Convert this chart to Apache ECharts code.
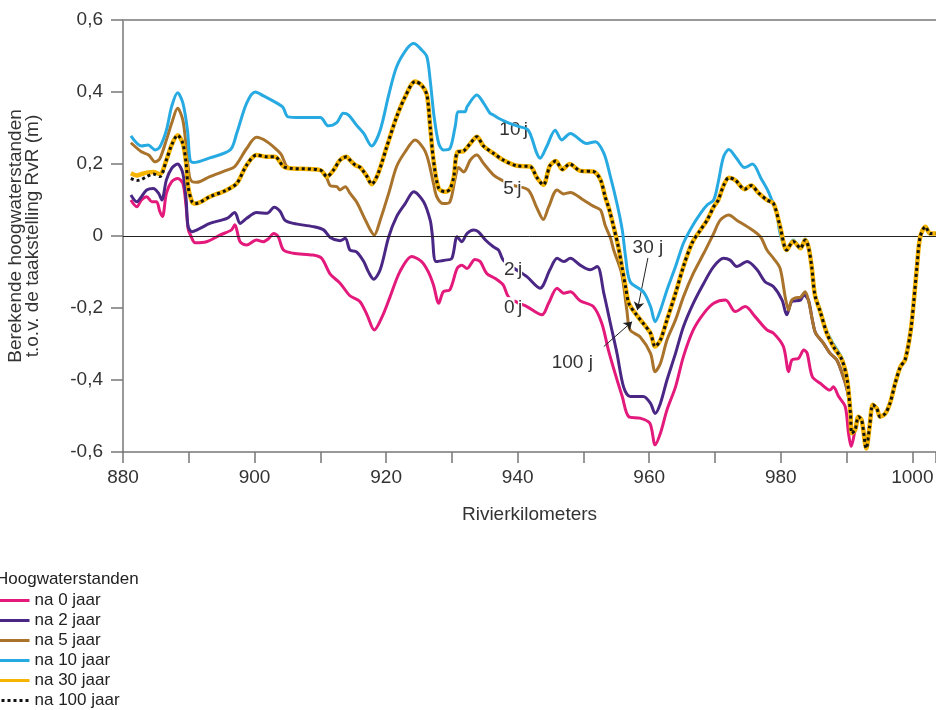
<!DOCTYPE html>
<html>
<head>
    <meta charset="UTF-8">
    <title>Hoogwaterstanden</title>
    <script src="https://cdn.jsdelivr.net/npm/echarts@6/dist/echarts.min.js"></script>
</head>
<body style="margin:0;background:#fff;">
<div id="main" style="width:936px; height:710px;"></div>
<script type="text/javascript">

    // tick labels
    var kmTicks = [880, 900, 920, 940, 960, 980, 1000];

    // [rivierkilometer, hoogwaterstand (m)] per scenario
    var na0 = [[881.2,0.1],[882.1,0.081],[882.8,0.1],[883.6,0.109],[884.4,0.095],[885.1,0.095],[885.6,0.068],[886.0,0.054],[886.6,0.119],[887.4,0.151],[888.3,0.16],[889.1,0.146],[889.6,0.081],[889.9,0.02],[890.2,0.005],[891.0,-0.019],[892.7,-0.016],[894.8,0.003],[896.5,0.017],[897.0,0.031],[897.8,-0.016],[898.8,-0.025],[900.3,-0.011],[901.3,-0.016],[902.1,-0.008],[902.9,0.007],[903.6,-0.002],[904.4,-0.039],[905.9,-0.048],[908.9,-0.053],[910.2,-0.062],[911.5,-0.106],[913.0,-0.131],[914.5,-0.166],[916.0,-0.182],[917.1,-0.219],[918.2,-0.261],[919.4,-0.224],[920.6,-0.169],[922.1,-0.099],[923.9,-0.057],[925.4,-0.071],[926.4,-0.099],[927.2,-0.136],[928.0,-0.187],[928.7,-0.155],[929.7,-0.149],[930.8,-0.09],[931.5,-0.081],[932.3,-0.09],[933.5,-0.065],[934.3,-0.071],[935.3,-0.104],[936.6,-0.118],[937.8,-0.136],[938.6,-0.169],[940.0,-0.185],[941.4,-0.196],[943.7,-0.219],[944.7,-0.187],[946.0,-0.145],[947.0,-0.159],[948.0,-0.155],[949.5,-0.18],[951.5,-0.196],[952.8,-0.243],[953.8,-0.317],[954.8,-0.381],[955.9,-0.446],[956.9,-0.502],[958.6,-0.506],[960.1,-0.52],[960.9,-0.58],[961.7,-0.548],[962.7,-0.483],[964.0,-0.419],[965.2,-0.335],[966.7,-0.261],[968.3,-0.215],[969.8,-0.187],[971.6,-0.178],[973.1,-0.21],[974.6,-0.196],[976.1,-0.224],[977.9,-0.261],[978.9,-0.27],[980.4,-0.307],[981.2,-0.377],[981.7,-0.344],[982.7,-0.34],[983.5,-0.317],[984.0,-0.325],[984.8,-0.391],[986.0,-0.409],[987.5,-0.428],[988.0,-0.419],[988.8,-0.446],[989.8,-0.474],[990.3,-0.548],[990.7,-0.585]];

    var na2 = [[881.2,0.114],[882.1,0.095],[882.8,0.109],[883.6,0.128],[884.6,0.132],[885.4,0.119],[885.9,0.1],[886.6,0.156],[887.4,0.188],[888.3,0.2],[889.1,0.174],[889.6,0.1],[889.9,0.026],[890.5,0.012],[891.7,0.021],[893.2,0.035],[895.8,0.049],[897.0,0.065],[897.8,0.035],[898.8,0.049],[900.3,0.065],[901.9,0.063],[903.0,0.08],[903.9,0.068],[904.6,0.044],[905.9,0.035],[908.9,0.026],[910.5,0.017],[911.5,-0.004],[913.0,-0.013],[913.8,-0.006],[914.5,-0.039],[915.5,-0.044],[916.6,-0.071],[917.3,-0.099],[918.1,-0.12],[919.1,-0.094],[920.4,-0.002],[921.6,0.054],[922.9,0.09],[924.2,0.123],[925.7,0.095],[926.7,0.044],[927.0,0.007],[927.6,-0.071],[929.0,-0.067],[930.0,-0.062],[930.8,-0.002],[931.5,-0.016],[932.3,0.007],[933.3,0.017],[934.0,0.012],[935.1,-0.011],[936.3,-0.03],[937.1,-0.039],[937.8,-0.067],[939.5,-0.09],[941.4,-0.113],[943.4,-0.145],[944.9,-0.094],[946.0,-0.062],[947.0,-0.071],[948.0,-0.062],[949.5,-0.081],[951.0,-0.094],[952.1,-0.085],[953.1,-0.159],[954.1,-0.243],[955.1,-0.326],[956.1,-0.419],[957.1,-0.446],[959.1,-0.446],[960.2,-0.465],[960.9,-0.493],[961.7,-0.465],[962.7,-0.4],[964.0,-0.326],[965.2,-0.252],[966.7,-0.187],[968.3,-0.131],[969.8,-0.085],[971.3,-0.062],[972.3,-0.067],[973.3,-0.085],[974.9,-0.071],[976.4,-0.094],[977.6,-0.127],[978.9,-0.141],[980.2,-0.178],[980.9,-0.219],[981.7,-0.182],[983.0,-0.178],[983.5,-0.164],[984.2,-0.178],[984.8,-0.233],[985.3,-0.27],[986.5,-0.298],[987.5,-0.326],[988.5,-0.344],[989.5,-0.391],[990.1,-0.428],[990.6,-0.483],[990.8,-0.548]];

    var na5 = [[881.2,0.259],[882.8,0.234],[883.9,0.225],[884.9,0.206],[885.6,0.215],[886.6,0.267],[887.4,0.313],[888.3,0.355],[889.1,0.322],[889.6,0.248],[890.1,0.165],[890.5,0.151],[891.2,0.149],[893.2,0.165],[895.8,0.183],[897.0,0.193],[898.8,0.243],[900.3,0.274],[901.9,0.262],[903.4,0.239],[904.1,0.225],[904.9,0.193],[905.7,0.188],[910.0,0.183],[911.0,0.16],[911.5,0.14],[912.5,0.137],[913.0,0.128],[913.8,0.137],[914.5,0.119],[915.5,0.095],[916.6,0.054],[917.6,0.017],[918.2,0.003],[919.1,0.044],[920.4,0.119],[921.6,0.193],[922.9,0.234],[924.4,0.267],[925.7,0.243],[926.4,0.211],[927.2,0.146],[927.7,0.109],[928.7,0.09],[929.7,0.095],[930.5,0.16],[931.0,0.19],[931.8,0.178],[932.8,0.211],[933.8,0.225],[934.8,0.202],[936.3,0.17],[937.5,0.156],[939.5,0.14],[941.6,0.128],[942.9,0.079],[943.9,0.046],[944.7,0.08],[946.0,0.128],[947.0,0.117],[948.0,0.121],[950.0,0.1],[951.5,0.083],[952.6,0.072],[953.3,0.03],[954.1,-0.005],[954.6,-0.039],[955.8,-0.104],[956.6,-0.206],[957.1,-0.261],[958.6,-0.28],[960.2,-0.326],[960.9,-0.377],[961.7,-0.354],[962.7,-0.289],[964.0,-0.233],[965.2,-0.169],[966.7,-0.104],[968.3,-0.048],[969.8,0.007],[970.8,0.044],[972.1,0.058],[973.3,0.044],[974.9,0.026],[976.9,-0.002],[977.9,-0.039],[978.9,-0.062],[979.9,-0.09],[980.7,-0.172],[981.2,-0.206],[981.6,-0.18],[982.2,-0.172],[983.0,-0.17],[983.7,-0.155],[984.2,-0.178],[984.8,-0.233],[985.3,-0.27],[986.5,-0.298],[987.5,-0.326],[988.5,-0.344],[989.5,-0.391],[990.1,-0.428],[990.6,-0.483],[990.8,-0.548]];

    var na10 = [[881.2,0.278],[882.8,0.25],[883.8,0.253],[884.9,0.239],[885.6,0.247],[886.6,0.294],[887.4,0.36],[888.3,0.398],[889.1,0.37],[889.8,0.294],[890.2,0.211],[890.7,0.204],[893.2,0.217],[896.3,0.239],[897.3,0.286],[898.8,0.369],[900.1,0.4],[901.3,0.39],[903.4,0.369],[904.3,0.358],[905.1,0.331],[906.9,0.329],[910.0,0.329],[911.2,0.306],[912.5,0.315],[913.5,0.341],[914.3,0.336],[915.5,0.308],[916.6,0.285],[917.8,0.25],[919.1,0.294],[920.4,0.392],[921.6,0.47],[923.2,0.521],[924.2,0.535],[925.4,0.517],[926.2,0.498],[926.7,0.433],[927.3,0.331],[928.0,0.257],[928.7,0.239],[929.7,0.243],[930.5,0.304],[931.0,0.345],[932.0,0.345],[932.3,0.359],[933.8,0.392],[934.8,0.37],[935.8,0.341],[936.3,0.336],[937.1,0.327],[938.5,0.315],[940.0,0.305],[941.6,0.294],[942.9,0.23],[943.4,0.216],[944.4,0.248],[945.7,0.294],[946.7,0.267],[948.0,0.285],[950.5,0.257],[951.8,0.262],[953.1,0.23],[954.1,0.165],[955.1,0.09],[955.9,0.017],[956.4,-0.057],[957.1,-0.127],[959.1,-0.155],[960.2,-0.196],[960.9,-0.238],[961.7,-0.206],[962.7,-0.15],[964.0,-0.085],[965.2,-0.02],[966.5,0.026],[967.8,0.063],[968.8,0.086],[969.8,0.1],[970.5,0.15],[971.3,0.22],[972.1,0.24],[973.3,0.215],[974.5,0.19],[975.7,0.2],[977.0,0.16],[978.2,0.12],[979.4,0.06],[979.9,0.007],[980.9,-0.039],[981.9,-0.011],[983.0,-0.034],[983.7,-0.008],[984.2,-0.025],[984.7,-0.085],[985.2,-0.159],[986.0,-0.206],[987.0,-0.265],[988.0,-0.3],[989.3,-0.34],[990.1,-0.4],[990.6,-0.493],[990.8,-0.548]];

    var na100 = [[881.2,0.16],[882.1,0.154],[882.8,0.157],[883.6,0.165],[884.6,0.172],[885.6,0.165],[886.6,0.211],[887.4,0.253],[888.3,0.28],[889.1,0.257],[889.6,0.202],[889.9,0.137],[890.5,0.095],[891.0,0.09],[893.2,0.109],[895.8,0.128],[897.3,0.146],[898.8,0.197],[900.3,0.225],[901.9,0.22],[903.1,0.22],[904.4,0.193],[905.4,0.188],[910.0,0.183],[911.0,0.165],[912.0,0.183],[913.0,0.211],[914.0,0.22],[914.5,0.211],[915.3,0.197],[916.1,0.19],[917.1,0.165],[917.8,0.144],[918.8,0.174],[920.1,0.248],[921.6,0.331],[922.9,0.387],[924.4,0.429],[925.4,0.419],[926.2,0.392],[926.7,0.304],[927.2,0.211],[928.0,0.132],[929.0,0.123],[929.7,0.13],[930.3,0.165],[930.8,0.232],[931.8,0.236],[932.8,0.257],[933.8,0.276],[934.8,0.25],[936.3,0.23],[937.8,0.211],[939.9,0.195],[941.9,0.193],[942.9,0.163],[943.9,0.142],[944.9,0.195],[945.8,0.208],[946.8,0.185],[947.9,0.2],[949.5,0.181],[951.5,0.179],[952.6,0.156],[953.3,0.109],[953.9,0.075],[954.6,0.025],[955.3,-0.03],[955.8,-0.08],[956.4,-0.141],[956.9,-0.187],[957.9,-0.215],[959.1,-0.243],[960.2,-0.27],[960.9,-0.307],[961.7,-0.289],[962.7,-0.233],[964.0,-0.159],[965.2,-0.085],[966.5,-0.02],[967.8,0.017],[968.8,0.044],[969.8,0.081],[970.5,0.1],[971.3,0.14],[972.1,0.162],[973.1,0.155],[974.5,0.13],[975.5,0.14],[976.6,0.12],[977.9,0.1],[978.9,0.09],[979.9,0.026],[980.9,-0.039],[981.9,-0.015],[983.0,-0.034],[983.7,-0.011],[984.2,-0.03],[984.7,-0.085],[985.2,-0.165],[986.0,-0.21],[987.0,-0.27],[988.0,-0.307],[989.3,-0.344],[990.1,-0.4],[990.6,-0.493],[990.8,-0.548]];

    // 30 jaar ligt op 100 jaar, alleen het begin wijkt af
    var na30Start = [[881.2,0.174],[882.1,0.168],[882.8,0.172],[883.6,0.176],[884.6,0.178],[885.6,0.172]];

    // gezamenlijk eind (alle scenario's vallen samen)
    var tail = [[991.3,-0.539],[991.8,-0.502],[992.3,-0.511],[993.0,-0.59],[993.5,-0.53],[994.0,-0.469],[994.6,-0.479],[995.1,-0.502],[995.9,-0.493],[996.6,-0.465],[997.4,-0.409],[998.2,-0.363],[998.9,-0.344],[999.7,-0.27],[1000.2,-0.187],[1000.7,-0.085],[1001.2,-0.002],[1002.0,0.026],[1002.7,0.007],[1003.6,0.007]];

    var fontFam = 'Liberation Sans, Arial, sans-serif';

    function lineSerie(name, data, color, width, type, z) {
        return {
            name: name,
            type: 'line',
            data: data,
            symbol: 'none',
            smooth: 0.3,
            z: z,
            lineStyle: { color: color, width: width, type: type },
            itemStyle: { color: color }
        };
    }

    var labelRich = {
        t: { backgroundColor: '#fff', color: '#333', fontSize: 19, fontFamily: fontFam, padding: [1, 0, 1, 0] }
    };
    function jLabel(coord, left) {
        return {
            coord: coord,
            label: { formatter: '{t|' + left + '} {t|j}' }
        };
    }

    var pink = lineSerie('na 0 jaar', na0.concat(tail), '#e3197b', 3, 'solid', 2);
    pink.markPoint = {
        symbol: 'circle',
        symbolSize: 1,
        silent: true,
        itemStyle: { color: 'rgba(0,0,0,0)' },
        label: { show: true, position: 'inside', rich: labelRich },
        data: [
            jLabel([939.4, 0.294], '10'),
            jLabel([939.2, 0.13], '5'),
            jLabel([939.3, -0.093], '2'),
            jLabel([939.3, -0.199], '0'),
            { coord: [959.8, -0.033], label: { formatter: '30 j', color: '#333', fontSize: 19, fontFamily: fontFam } },
            { coord: [948.3, -0.353], label: { formatter: '100 j', color: '#333', fontSize: 19, fontFamily: fontFam } }
        ]
    };
    pink.markLine = {
        silent: true,
        symbol: ['none', 'none'],
        label: { show: false },
        lineStyle: { color: '#222', width: 1, type: 'solid' },
        data: [
            { yAxis: 0 },
            [{ coord: [959.8, -0.061], symbol: 'none' }, { coord: [958.2, -0.206], symbol: 'arrow', symbolSize: 8 }],
            [{ coord: [953.1, -0.307], symbol: 'none' }, { coord: [957.4, -0.238], symbol: 'arrow', symbolSize: 8 }]
        ]
    };

    var option = {
        animation: false,
        backgroundColor: '#fff',
        textStyle: { fontFamily: fontFam },
        title: {
            text: 'Hoogwaterstanden',
            left: -4,
            top: 571,
            padding: 0,
            textStyle: { fontSize: 17, fontWeight: 'normal', color: '#222', fontFamily: fontFam }
        },
        legend: {
            orient: 'vertical',
            left: -6,
            top: 592,
            padding: 0,
            itemWidth: 34,
            itemHeight: 14,
            itemGap: 3,
            itemStyle: { opacity: 0 },
            lineStyle: { width: 3 },
            textStyle: { fontSize: 17, color: '#222', fontFamily: fontFam },
            data: ['na 0 jaar', 'na 2 jaar', 'na 5 jaar', 'na 10 jaar', 'na 30 jaar', 'na 100 jaar']
        },
        grid: { left: 123, right: 0, top: 20, bottom: 258, containLabel: false, outerBoundsMode: 'none' },
        xAxis: [
            {
                type: 'value',
                min: 880,
                max: 1003.6,
                interval: 10,
                name: 'Rivierkilometers',
                nameLocation: 'middle',
                nameGap: 53,
                nameTextStyle: { fontSize: 19, color: '#333' },
                axisLine: { onZero: false, lineStyle: { color: '#777', width: 1.5 } },
                axisTick: { length: 11, lineStyle: { color: '#777', width: 1.5 } },
                axisLabel: {
                    fontSize: 19,
                    color: '#333',
                    margin: 16,
                    formatter: function (v) { return kmTicks.indexOf(v) >= 0 ? String(v) : ''; }
                },
                splitLine: { show: false }
            },
            {
                type: 'value',
                position: 'top',
                min: 880,
                max: 1003.6,
                axisLine: { onZero: false, lineStyle: { color: '#999', width: 2 } },
                axisTick: { show: false },
                axisLabel: { show: false },
                splitLine: { show: false }
            }
        ],
        yAxis: {
            type: 'value',
            min: -0.6,
            max: 0.6,
            interval: 0.2,
            name: 'Berekende hoogwaterstanden\nt.o.v. de taakstelling RvR (m)',
            nameLocation: 'middle',
            nameRotate: 90,
            nameGap: 82,
            nameTextStyle: { fontSize: 19, color: '#333', lineHeight: 17 },
            axisLine: { show: true, onZero: false, lineStyle: { color: '#777', width: 1.5 } },
            axisTick: { show: true, length: 12, lineStyle: { color: '#777', width: 1.5 } },
            axisLabel: {
                fontSize: 19,
                color: '#333',
                margin: 20,
                formatter: function (v) {
                    if (Math.abs(v) < 1e-9) return '0';
                    return v.toFixed(1).replace('.', ',');
                }
            },
            splitLine: { show: false }
        },
        series: [
            pink,
            lineSerie('na 2 jaar', na2.concat(tail), '#4a2785', 3, 'solid', 3),
            lineSerie('na 5 jaar', na5.concat(tail), '#a9732b', 3, 'solid', 4),
            lineSerie('na 10 jaar', na10.concat(tail), '#27aae1', 3, 'solid', 5),
            lineSerie('na 30 jaar', na30Start.concat(na100.slice(6)).concat(tail), '#f4b400', 4.5, 'solid', 6),
            lineSerie('na 100 jaar', na100.concat(tail), '#111', 3, [3, 3], 7)
        ]
    };

    var myChart = echarts.init(document.getElementById('main'));
    myChart.setOption(option);

</script>
</body>
</html>
